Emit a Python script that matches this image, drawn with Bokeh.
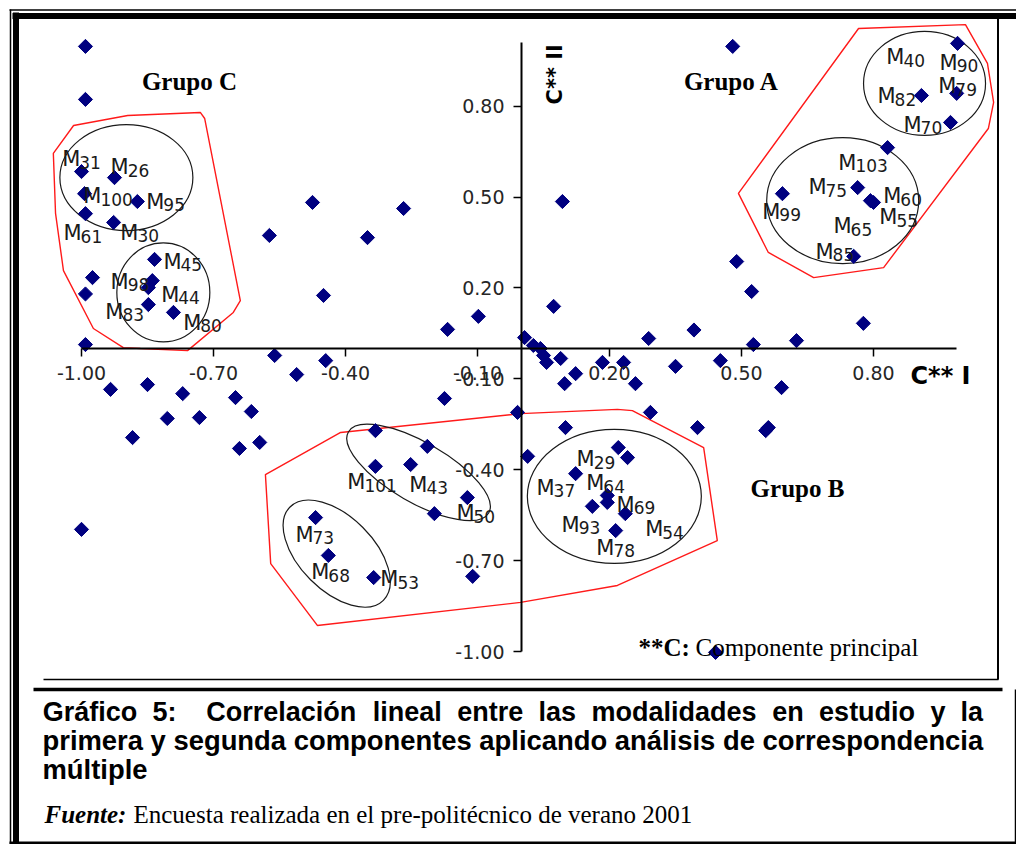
import math
from bokeh.plotting import figure
from bokeh.models import Range1d, LinearAxis, FixedTicker, PrintfTickFormatter
from bokeh.core.properties import value
from bokeh.embed import file_html
from bokeh.resources import INLINE

# ---------------- data ----------------
ticks = [-1.0, -0.7, -0.4, -0.1, 0.2, 0.5, 0.8]

pt_x = [-0.991, -0.991, -1.000, -0.925, -0.993, -0.873, -0.991, -0.927, -0.834, -0.975,
        -0.839, -0.848, -0.991, -0.848, -0.791, -0.991, -0.475, -0.573, -0.350, -0.268,
        -0.450, -0.168, -0.098, -0.561, -0.445, -0.511, -0.934, -0.850, -0.770, -0.650,
        -0.614, -0.805, -0.732, -0.884, -0.641, -0.595, -1.000, -0.175, -0.332, -0.214,
        -0.332, -0.252, -0.123, -0.198, -0.468, -0.439, -0.336, -0.111, 0.007, 0.027,
        0.043, 0.050, 0.057, 0.089, 0.073, 0.093, 0.289, 0.184, 0.232, 0.350,
        0.123, 0.098, 0.259, -0.009, 0.293, 0.100, 0.014, 0.220, 0.241, 0.123,
        0.195, 0.195, 0.161, 0.236, 0.214, 0.392, 0.527, 0.625, 0.452, 0.591,
        0.400, 0.561, 0.555, 0.441, 0.489, 0.523, 0.777, 0.480, 0.991, 0.909,
        0.989, 0.975, 0.832, 0.764, 0.793, 0.800, 0.593, 0.755]
pt_y = [0.997, 0.822, 0.584, 0.564, 0.511, 0.485, 0.445, 0.416, 0.294, 0.234,
        0.224, 0.201, 0.180, 0.145, 0.119, 0.013, 0.482, 0.373, 0.366, 0.462,
        0.175, 0.063, 0.106, -0.023, -0.040, -0.086, -0.135, -0.119, -0.149, -0.162,
        -0.208, -0.231, -0.228, -0.294, -0.330, -0.310, -0.597, -0.165, -0.271, -0.323,
        -0.389, -0.383, -0.492, -0.545, -0.558, -0.683, -0.756, -0.752, 0.036, 0.010,
        0.000, -0.023, -0.046, -0.033, 0.139, 0.485, 0.033, -0.046, -0.046, -0.059,
        -0.083, -0.116, -0.116, -0.211, -0.211, -0.261, -0.356, -0.327, -0.360, -0.413,
        -0.485, -0.508, -0.521, -0.545, -0.601, 0.061, 0.013, 0.026, -0.040, -0.129,
        -0.261, -0.261, -0.271, -1.003, 0.287, 0.188, 0.083, 0.997, 1.007, 0.835,
        0.842, 0.746, 0.663, 0.531, 0.488, 0.482, 0.511, 0.304]

lab_num = ["31", "26", "100", "95", "61", "30", "45", "98", "44", "83", "80",
           "40", "90", "82", "79", "70", "103", "75", "60", "99", "65", "55", "85",
           "101", "43", "50", "53", "29", "37", "64", "69", "93", "78", "54", "73", "68"]
lab_x = [-1.005, -0.895, -0.957, -0.814, -1.002, -0.873, -0.775, -0.895, -0.780, -0.907, -0.730,
         0.868, 0.989, 0.848, 0.986, 0.907, 0.759, 0.691, 0.861, 0.586, 0.748, 0.852, 0.707,
         -0.357, -0.216, -0.109, -0.282, 0.164, 0.073, 0.186, 0.255, 0.130, 0.209, 0.320, -0.475, -0.439]
lab_y = [0.604, 0.578, 0.482, 0.465, 0.360, 0.363, 0.267, 0.201, 0.158, 0.102, 0.066,
         0.941, 0.924, 0.812, 0.845, 0.719, 0.594, 0.512, 0.482, 0.432, 0.383, 0.413, 0.300,
         -0.462, -0.469, -0.564, -0.782, -0.386, -0.479, -0.465, -0.535, -0.601, -0.677, -0.617, -0.634, -0.759]

# group outlines (data units)
poly_xs = [[-1.064, -1.018, -0.895, -0.730, -0.720, -0.639, -0.655, -0.759, -0.866, -0.905, -0.973, -1.041, -1.059],
           [0.766, 1.009, 1.059, 1.073, 1.061, 0.823, 0.664, 0.561, 0.493],
           [-0.582, -0.411, -0.002, 0.218, 0.252, 0.414, 0.445, 0.218, -0.002, -0.464, -0.570]]
poly_ys = [[0.644, 0.736, 0.769, 0.779, 0.759, 0.158, 0.119, -0.007, 0.000, 0.003, 0.066, 0.257, 0.446],
           [1.056, 1.069, 0.941, 0.812, 0.726, 0.267, 0.234, 0.317, 0.512],
           [-0.416, -0.277, -0.215, -0.201, -0.205, -0.327, -0.634, -0.782, -0.838, -0.914, -0.710]]

# sub-group ellipses: centres (data), sizes (screen px), tilt (deg)
ell_x = [-0.898, -0.814, 0.916, 0.730, 0.211, -0.234, -0.420]
ell_y = [0.564, 0.185, 0.875, 0.488, -0.488, -0.409, -0.677]
ell_w = [133, 93, 122, 152, 174, 162, 132]
ell_h = [106, 99, 104, 126, 134, 60, 74]
ell_a = [0, 0, 0, 0, 0, -30, -45]

caption1_words = ["Gráfico", "5:", "Correlación", "lineal", "entre", "las",
                  "modalidades", "en", "estudio", "y", "la"]
caption1_cx = [89.6, 164, 280.8, 406.8, 489.7, 556.7, 673.6, 787.5, 866.6, 937.4, 971.2]
caption2 = "primera y segunda componentes aplicando análisis de correspondencia"
caption3 = "múltiple"

# ---------------- figure ----------------
W, H = 1016, 844


def X(px):  # page pixel -> data x
    return (px - 521) / 440.0


def Y(py):  # page pixel -> data y
    return (348 - py) / 303.0


p = figure(width=W, height=H, output_backend="svg", toolbar_location=None,
           x_range=Range1d(X(0), X(W)), y_range=Range1d(Y(H), Y(0)),
           x_axis_type=None, y_axis_type=None, min_border=0,
           outline_line_color=None, background_fill_color="white",
           border_fill_color="white")

lab_font = value("DejaVu Sans")

xax = LinearAxis(fixed_location=0, ticker=FixedTicker(ticks=ticks),
                 formatter=PrintfTickFormatter(format="%.2f"), bounds=(-1.0, 0.988))
yax = LinearAxis(fixed_location=0, ticker=FixedTicker(ticks=ticks),
                 formatter=PrintfTickFormatter(format="%.2f"), bounds=(-1.0, 1.01))
for ax in (xax, yax):
    ax.axis_line_width = 2
    ax.axis_line_color = "black"
    ax.major_tick_out = 8
    ax.major_tick_in = 0
    ax.minor_tick_out = 0
    ax.minor_tick_in = 0
    ax.major_tick_line_width = 1.5
    ax.major_tick_line_color = "black"
    ax.major_label_text_font = "DejaVu Sans"
    ax.major_label_text_font_size = "19px"
    ax.major_label_text_color = "#262626"
xax.major_label_standoff = 9
yax.major_label_standoff = 9
p.add_layout(xax, "below")
p.add_layout(yax, "left")

# group outlines
p.patches(poly_xs, poly_ys, fill_color=None, line_color="#ff1a1a", line_width=1.4)
p.ellipse(x=ell_x, y=ell_y, width=ell_w, height=ell_h,
          angle=[math.radians(a) for a in ell_a],
          width_units="screen", height_units="screen",
          fill_color=None, line_color="#1a1a1a", line_width=1.2)

# points
p.scatter(pt_x, pt_y, marker="square", angle=math.pi / 4, size=10,
          fill_color="#000080", line_color="#000080")

# point labels  M + subscript number
p.text(x=lab_x, y=lab_y, text=["M"] * len(lab_num), text_align="right",
       text_baseline="alphabetic", text_font=lab_font, text_font_size="21px",
       text_color="#1a1a1a", x_offset=1, y_offset=-6)
p.text(x=lab_x, y=lab_y, text=lab_num, text_align="left",
       text_baseline="alphabetic", text_font=lab_font, text_font_size="17px",
       text_color="#1a1a1a", y_offset=-3)

serif = value("Liberation Serif")
# group titles
p.text(x=[X(189), X(731), X(797)], y=[Y(89), Y(89), Y(496)],
       text=["Grupo C", "Grupo A", "Grupo B"], text_align="center",
       text_baseline="alphabetic", text_font=serif, text_font_size="25px",
       text_font_style="bold", text_color="black", y_offset=-8)
# component note
p.text(x=[X(638)], y=[Y(655)], text=["**C:"], text_align="left",
       text_baseline="alphabetic", text_font=serif, text_font_size="25px",
       text_font_style="bold", text_color="black", y_offset=-8)
p.text(x=[X(695)], y=[Y(655)], text=["Componente principal"], text_align="left",
       text_baseline="alphabetic", text_font=serif, text_font_size="25px",
       text_color="black", y_offset=-8)
# axis names
p.text(x=[X(910)], y=[Y(382)], text=["C** I"], text_align="left",
       text_baseline="alphabetic", text_font=value("DejaVu Sans"),
       text_font_size="24px", text_font_style="bold", text_color="black", y_offset=-7)
p.text(x=[X(554)], y=[Y(104)], text=["C** II"], angle=math.pi / 2,
       text_align="left", text_baseline="middle", text_font=value("DejaVu Sans"),
       text_font_size="21px", text_font_style="bold", text_color="black")

# caption
sans = value("Liberation Sans")
p.text(x=[X(c) for c in caption1_cx], y=[Y(719)] * len(caption1_cx), text=caption1_words,
       text_align="center", text_baseline="alphabetic", text_font=sans,
       text_font_size="27px", text_font_style="bold", text_color="black", y_offset=-8)
p.text(x=[X(42), X(42)], y=[Y(748), Y(777)], text=[caption2, caption3],
       text_align="left", text_baseline="alphabetic", text_font=sans,
       text_font_size="27.4px", text_font_style="bold", text_color="black", y_offset=-8)
p.text(x=[X(44)], y=[Y(822)], text=["Fuente:"], text_align="left",
       text_baseline="alphabetic", text_font=serif, text_font_size="25px",
       text_font_style="bold italic", text_color="black", y_offset=-8)
p.text(x=[X(133)], y=[Y(822)], text=["Encuesta realizada en el pre-politécnico de verano 2001"],
       text_align="left", text_baseline="alphabetic", text_font=serif,
       text_font_size="25px", text_color="black", y_offset=-8)

# frame lines (page pixels)
frame = [  # x0, y0, x1, y1, width
    (9, 9.5, 1016, 9.5, 1.5),
    (12, 15.5, 1016, 15.5, 6),
    (10, 9, 10, 844, 1.5),
    (15.5, 12, 15.5, 844, 6),
    (997.5, 18, 997.5, 679, 2),
    (43, 679, 998, 679, 1.5),
    (33, 689, 1002, 689, 3.5),
    (1015, 689, 1015, 844, 1.5),
    (9, 842.5, 1016, 842.5, 3),
]
for x0, y0, x1, y1, lw in frame:
    p.segment(x0=[X(x0)], y0=[Y(y0)], x1=[X(x1)], y1=[Y(y1)],
              line_color="black", line_width=lw)

open("out.html", "w").write(file_html(p, INLINE))
